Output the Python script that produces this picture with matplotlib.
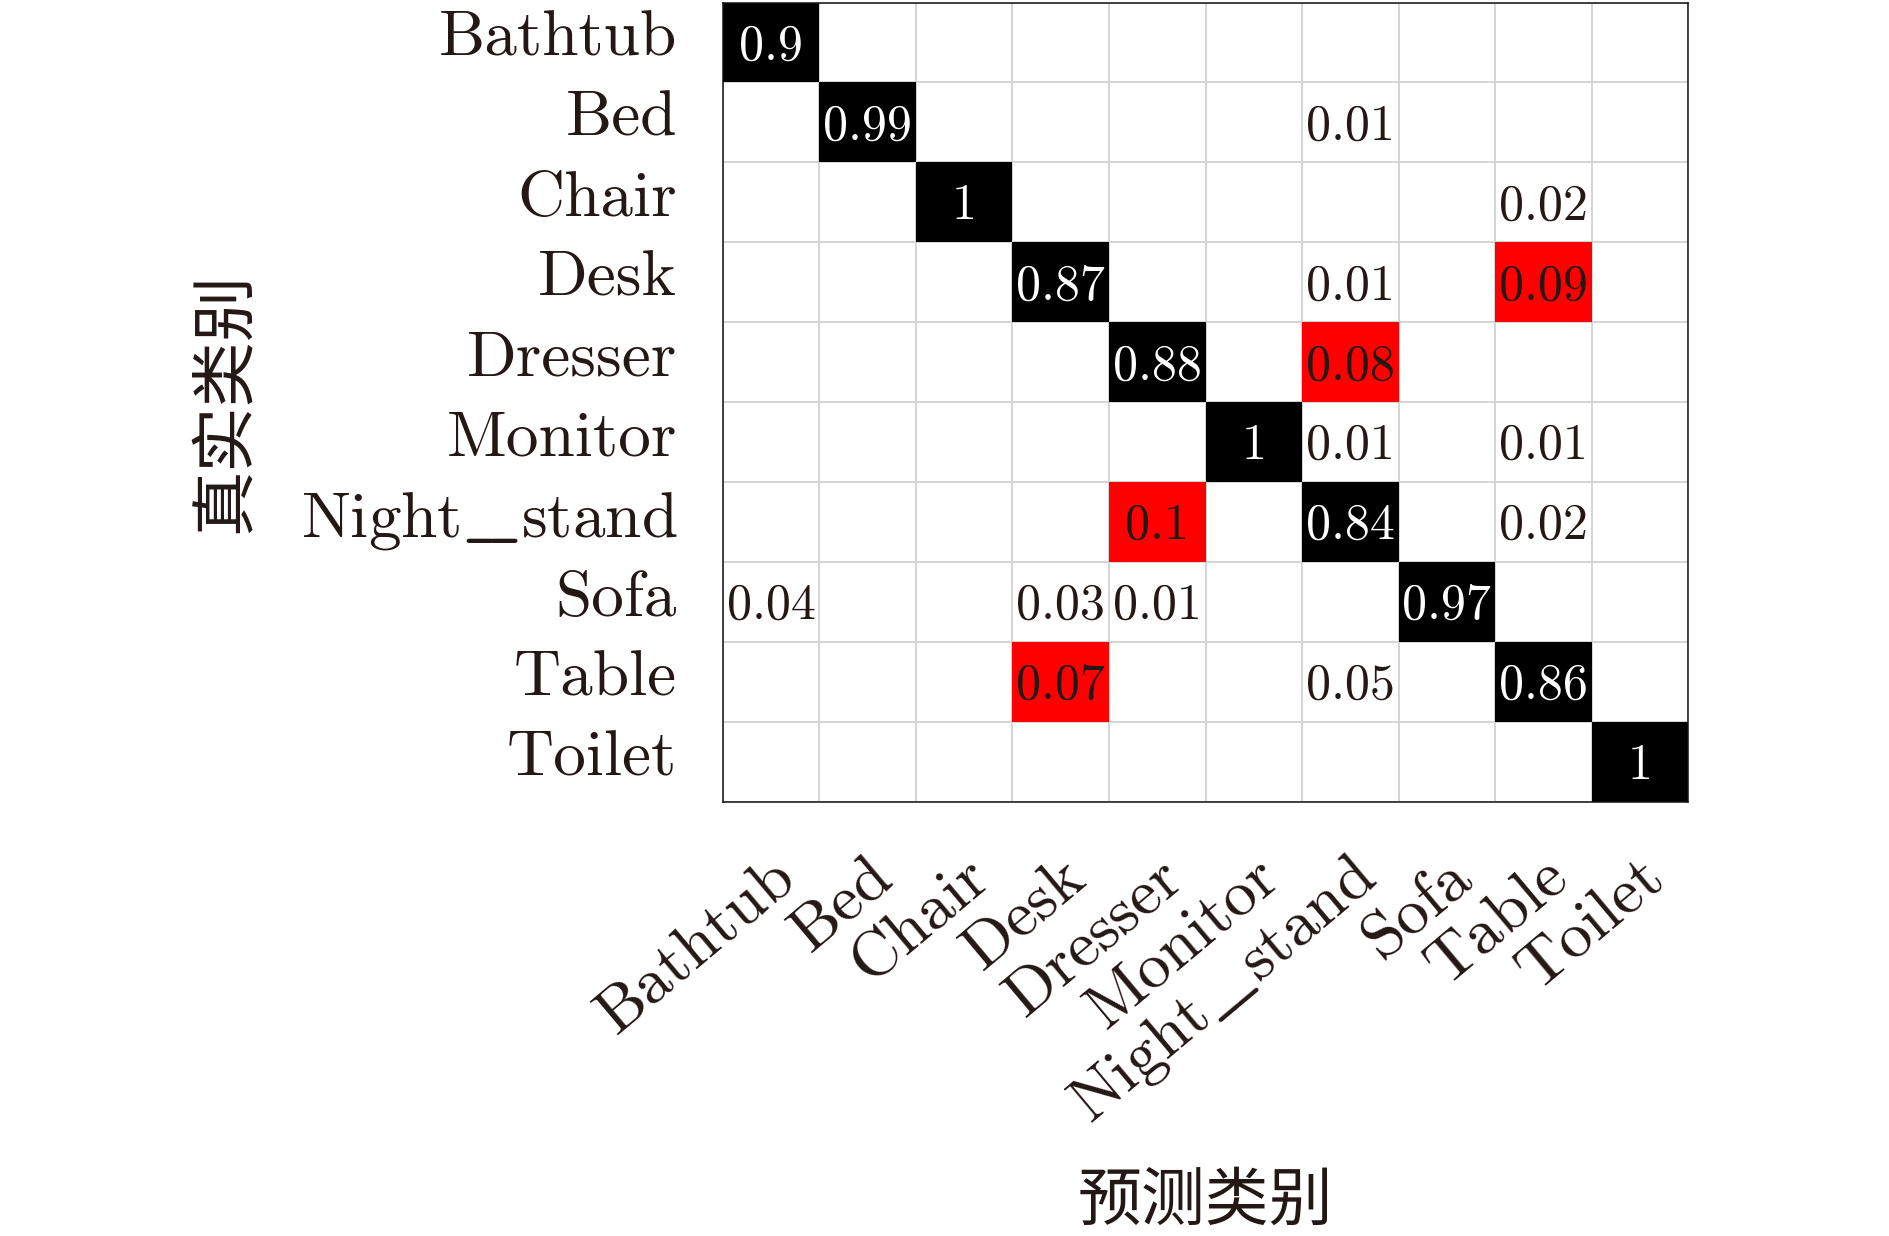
import numpy as np
import matplotlib
matplotlib.use("Agg")
import matplotlib.pyplot as plt
from matplotlib.colors import ListedColormap
from matplotlib.transforms import ScaledTranslation

plt.rcParams['font.family'] = ['cmr10', 'Noto Sans CJK SC', 'DejaVu Sans']
plt.rcParams['mathtext.fontset'] = 'cm'
plt.rcParams['axes.formatter.use_mathtext'] = True

# ---- data ----
categories = ["Bathtub", "Bed", "Chair", "Desk", "Dresser", "Monitor",
              "Night_stand", "Sofa", "Table", "Toilet"]
tick_labels = ["Bathtub", "Bed", "Chair", "Desk", "Dresser", "Monitor",
               r"Night$\_\!\_$stand", "Sofa", "Table", "Toilet"]
# rows: true class, columns: predicted class
row_bathtub = [0.90, 0, 0, 0, 0, 0, 0, 0, 0, 0]
row_bed = [0, 0.99, 0, 0, 0, 0, 0.01, 0, 0, 0]
row_chair = [0, 0, 1.00, 0, 0, 0, 0, 0, 0.02, 0]
row_desk = [0, 0, 0, 0.87, 0, 0, 0.01, 0, 0.09, 0]
row_dresser = [0, 0, 0, 0, 0.88, 0, 0.08, 0, 0, 0]
row_monitor = [0, 0, 0, 0, 0, 1.00, 0.01, 0, 0.01, 0]
row_night = [0, 0, 0, 0, 0.10, 0, 0.84, 0, 0.02, 0]
row_sofa = [0.04, 0, 0, 0.03, 0.01, 0, 0, 0.97, 0, 0]
row_table = [0, 0, 0, 0.07, 0, 0, 0.05, 0, 0.86, 0]
row_toilet = [0, 0, 0, 0, 0, 0, 0, 0, 0, 1.00]
xlabel = "预测类别"
ylabel = "真实类别"

M = np.array([row_bathtub, row_bed, row_chair, row_desk, row_dresser,
              row_monitor, row_night, row_sofa, row_table, row_toilet])
n = len(categories)

TXT = '#231815'
RED_THRESHOLD = 0.06

# colour codes: 2 = diagonal (black), 1 = notable confusion (red), NaN = blank
codes = np.full(M.shape, np.nan)
for i in range(n):
    for j in range(n):
        if i == j:
            codes[i, j] = 2
        elif M[i, j] >= RED_THRESHOLD:
            codes[i, j] = 1
codes = np.ma.masked_invalid(codes)

fig = plt.figure(figsize=(18.9, 12.36), dpi=100)
ax = fig.add_axes([723/1890, 1 - 802/1236, 965/1890, 799.5/1236])

cmap = ListedColormap(['#ff0000', '#000000'])
ax.pcolormesh(np.arange(n + 1), np.arange(n + 1), codes, cmap=cmap,
              vmin=0.5, vmax=2.5, zorder=1)
ax.set_xlim(0, n)
ax.set_ylim(n, 0)

# grid
ax.set_xticks(np.arange(n + 1), minor=True)
ax.set_yticks(np.arange(n + 1), minor=True)
ax.set_axisbelow(True)
ax.grid(which='minor', color='#d4d4d4', linewidth=1.4)
ax.grid(which='major', visible=False)
ax.tick_params(which='both', length=0)

# values
down = ScaledTranslation(0, -0.04, fig.dpi_scale_trans)
for i in range(n):
    for j in range(n):
        v = M[i, j]
        if v == 0:
            continue
        col = 'white' if i == j else TXT
        ax.text(j + 0.5, i + 0.5, f"{v:g}", ha='center', va='center',
                fontsize=36, color=col, zorder=3,
                transform=ax.transData + down)

# ticks
ax.set_xticks(np.arange(n) + 0.5)
ax.set_yticks(np.arange(n) + 0.5)
ax.set_yticklabels(tick_labels, fontsize=47, color=TXT)
ax.tick_params(axis='y', pad=33)
up = ScaledTranslation(0, 0.09, fig.dpi_scale_trans)
for lab in ax.get_yticklabels():
    lab.set_transform(lab.get_transform() + up)
ax.set_xticklabels(tick_labels, fontsize=47, color=TXT, rotation=40,
                   ha='right', va='baseline', rotation_mode='anchor')
ax.tick_params(axis='x', pad=0)
off = ScaledTranslation(0.28, -0.80, fig.dpi_scale_trans)
for lab in ax.get_xticklabels():
    lab.set_transform(lab.get_transform() + off)

for s in ax.spines.values():
    s.set_linewidth(1.1)
    s.set_color('#111111')
    s.set_zorder(4)

ax.set_xlabel(xlabel, fontsize=46, color=TXT, family=['Noto Sans CJK SC'])
ax.xaxis.set_label_coords(0.5, -0.5)
ax.xaxis.label.set_va('center')
ax.set_ylabel(ylabel, fontsize=47, color=TXT, family=['Noto Sans CJK SC'])
ax.yaxis.set_label_coords(-0.515, 0.5)
ax.yaxis.label.set_va('center')

fig.savefig("out.png", dpi=100)
